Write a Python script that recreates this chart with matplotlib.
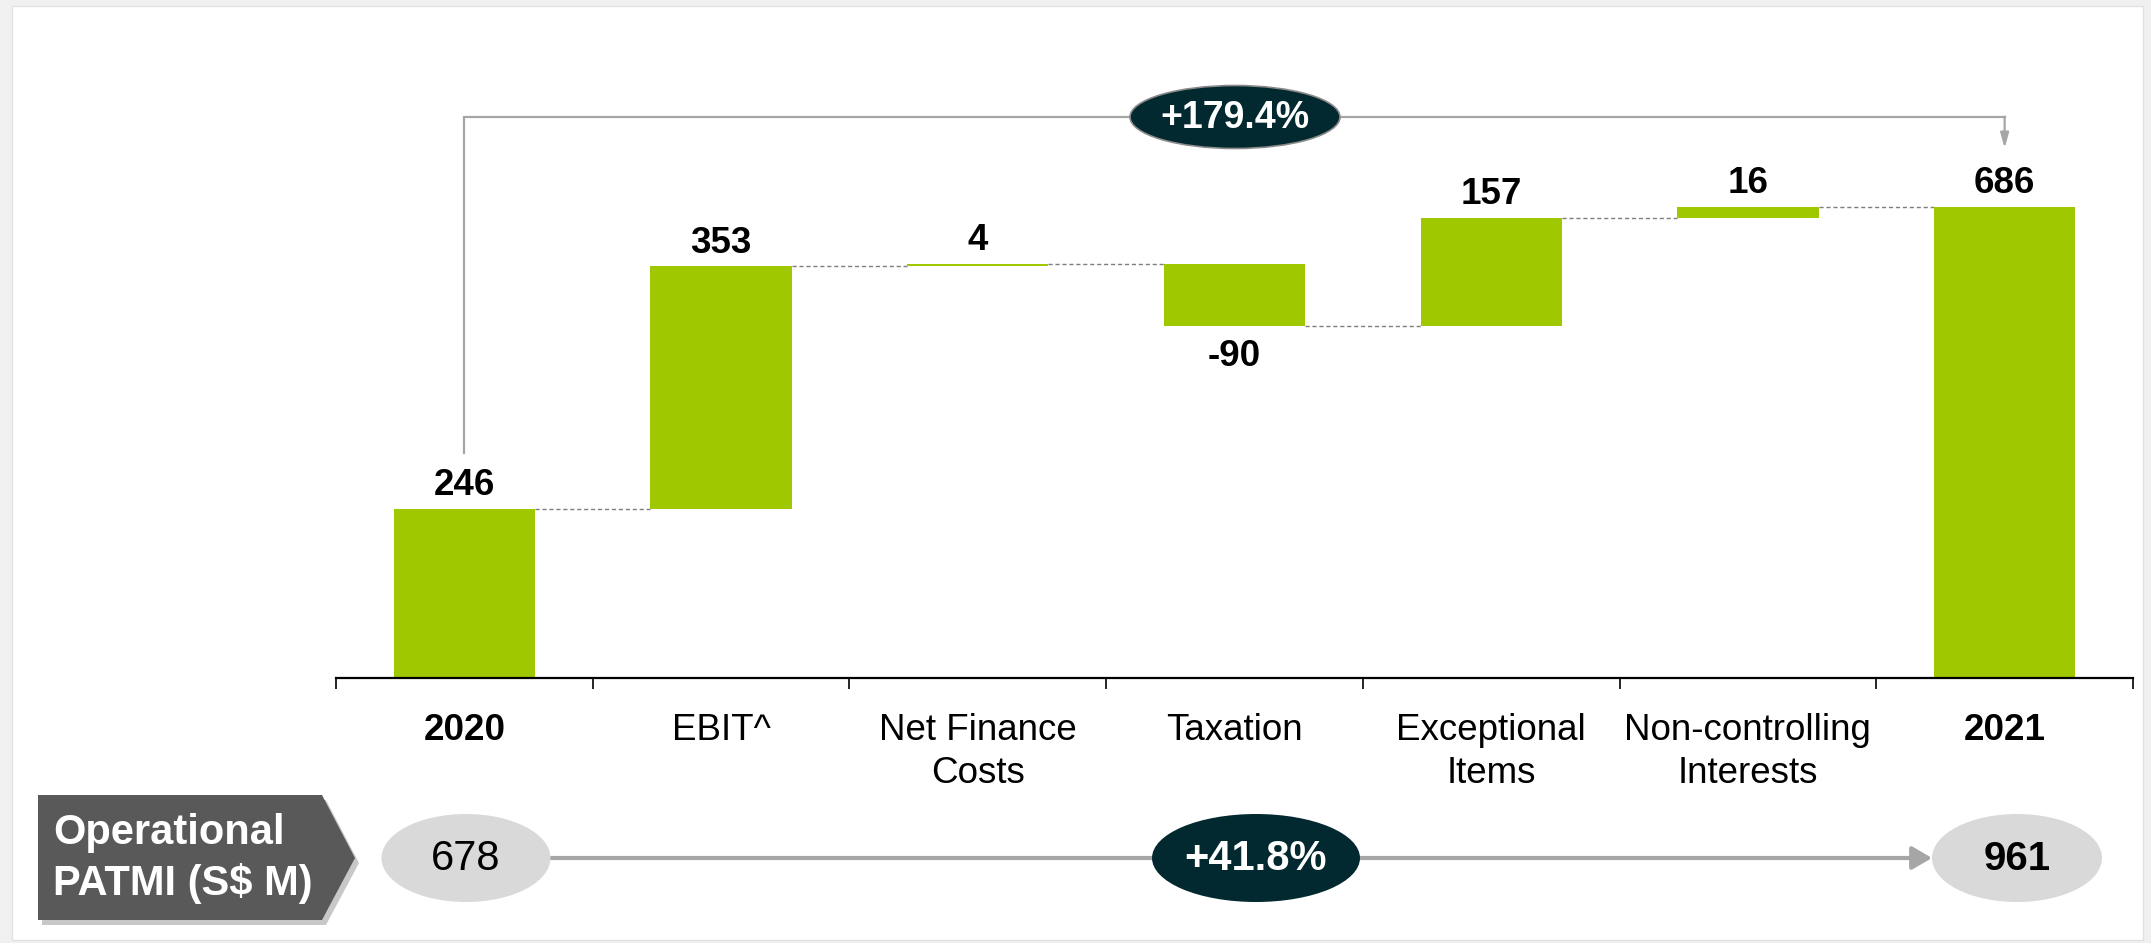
import numpy as np
import matplotlib
matplotlib.use("Agg")
import matplotlib.pyplot as plt
from matplotlib.patches import Ellipse, Polygon, Rectangle, FancyArrowPatch

plt.rcParams['font.family'] = ['Liberation Sans', 'DejaVu Sans']

categories = ["2020", "EBIT^", "Net Finance\nCosts", "Taxation",
              "Exceptional\nItems", "Non-controlling\nInterests", "2021"]
changes = [246, 353, 4, -90, 157, 16]
total_2021 = 686
growth_patmi = "+179.4%"
op_patmi = [678, 961]
growth_op = "+41.8%"

green = "#a0c800"
dark = "#02292f"
grey_line = "#a6a6a6"

W, H = 2151, 943
fig = plt.figure(figsize=(W / 100, H / 100), dpi=100, facecolor="#f0f0f0")

# pixel overlay for the frame and the bottom row
bg = fig.add_axes([0, 0, 1, 1], zorder=0)
bg.set_xlim(0, W)
bg.set_ylim(H, 0)
bg.axis("off")
bg.add_patch(Rectangle((12, 6), 2131, 934, facecolor="white", edgecolor="#e2e2e2", lw=1))

# main waterfall axes
ax = fig.add_axes([336 / W, (H - 678) / H, (2133 - 336) / W, (678 - 6) / H], zorder=1)
ax.patch.set_alpha(0)

n = len(categories)
x = np.arange(n)
bottoms, heights = [], []
level = 0
for i, c in enumerate(changes):
    if i == 0:
        bottoms.append(0)
        heights.append(c)
    else:
        bottoms.append(min(level, level + c))
        heights.append(abs(c))
    level += c
bottoms.append(0)
heights.append(total_2021)
ends = np.cumsum(changes)

bw = 0.55
ax.bar(x, heights, bottom=bottoms, width=bw, color=green, zorder=2)

# dashed connectors
for i in range(n - 1):
    ax.plot([i + bw / 2, i + 1 - bw / 2], [ends[i], ends[i]], ls=(0, (3, 2)),
            color="#7f7f7f", lw=1.0, zorder=1)

# value labels
vals = changes + [total_2021]
for i, v in enumerate(vals):
    if v >= 0:
        ax.annotate(f"{v}", (i, bottoms[i] + heights[i]), xytext=(0, 4),
                    textcoords="offset points", ha="center", va="bottom",
                    fontsize=26.5, fontweight="bold")
    else:
        ax.annotate(f"{v}", (i, bottoms[i]), xytext=(0, -10),
                    textcoords="offset points", ha="center", va="top",
                    fontsize=26.5, fontweight="bold")

ax.set_xlim(-0.5, n - 0.5)
ax.set_ylim(0, 978)
for s in ["top", "right", "left"]:
    ax.spines[s].set_visible(False)
ax.spines["bottom"].set_linewidth(1.6)
ax.set_yticks([])
ax.set_xticks(x)
ax.set_xticklabels(categories, fontsize=26.5, linespacing=1.32)
for lab in ax.get_xticklabels():
    if lab.get_text() in ("2020", "2021"):
        lab.set_fontweight("bold")
ax.tick_params(axis="x", which="major", length=0, pad=25)
ax.set_xticks(np.arange(-0.5, n), minor=True)
ax.tick_params(axis="x", which="minor", length=8, width=1.2, direction="out")

# top growth arrow from 2020 to 2021
y_top = 817
ax.plot([0, 0, 6], [328, y_top, y_top], color=grey_line, lw=1.6, zorder=1,
        solid_joinstyle="miter")
ax.annotate("", xy=(6, 771), xytext=(6, y_top),
            arrowprops=dict(arrowstyle="-|>,head_length=0.9,head_width=0.25",
                            color=grey_line, lw=1.6, shrinkA=0, shrinkB=0))
ax.add_patch(Ellipse((1235, 117), 210, 63, facecolor=dark, edgecolor="#8a8a8a",
                     lw=1.2, zorder=5, transform=bg.transData, clip_on=False))
ax.text(1235, 118, growth_patmi, color="white", fontsize=27, fontweight="bold",
        ha="center", va="center", zorder=6, transform=bg.transData, clip_on=False)

# bottom row: operational PATMI
box = [(38, 795), (322, 795), (355, 858), (322, 920), (38, 920)]
shadow = [(px + 4, py + 5) for px, py in box]
bg.add_patch(Polygon(shadow, closed=True, facecolor="#c8c8c8", edgecolor="none", zorder=2))
bg.add_patch(Polygon(box, closed=True, facecolor="#595959", edgecolor="none", zorder=3))
bg.text(53, 833, "Operational", color="white", fontsize=30, fontweight="bold",
        ha="left", va="center", zorder=4)
bg.text(53, 884, "PATMI (S$ M)", color="white", fontsize=30, fontweight="bold",
        ha="left", va="center", zorder=4)

yb = 858
bg.add_patch(FancyArrowPatch((551, yb), (1932, yb),
                             arrowstyle="-|>,head_length=12,head_width=7",
                             color=grey_line, lw=3, shrinkA=0, shrinkB=0,
                             mutation_scale=1, zorder=2))
bg.add_patch(Ellipse((466, yb), 169, 88, facecolor="#d9d9d9", edgecolor="none", zorder=3))
bg.text(466, yb + 1, f"{op_patmi[0]}", fontsize=30, ha="center", va="center", zorder=4)
bg.add_patch(Ellipse((2017, yb), 170, 88, facecolor="#d9d9d9", edgecolor="none", zorder=3))
bg.text(2017, yb + 1, f"{op_patmi[1]}", fontsize=29, fontweight="bold",
        ha="center", va="center", zorder=4)
bg.add_patch(Ellipse((1256, yb), 208, 88, facecolor=dark, edgecolor="none", zorder=3))
bg.text(1256, yb + 1, growth_op, color="white", fontsize=30, fontweight="bold",
        ha="center", va="center", zorder=4)

fig.savefig("out.png", dpi=100, facecolor=fig.get_facecolor())
